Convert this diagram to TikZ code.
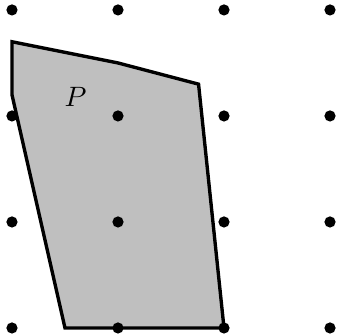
\documentclass[tikz,border=0pt]{standalone}
\tikzset{
	gdot/.style={circle, fill=black, inner sep=0pt, minimum size=4pt},
	pface/.style={fill=black!25, draw=black, line width=1.2pt, line join=miter}
}

\begin{document}
\begin{tikzpicture}[x=1.33cm, y=1.33cm]
	\useasboundingbox (-0.113,-0.066) rectangle (3.066,3.094);
	\draw[pface] (0,2.7) coordinate (pa) -- (1,2.5) coordinate (pb) -- (1.76,2.3) coordinate (pc)
		-- (2,0) coordinate (pd) -- (0.5,0) coordinate (pe) -- (0,2.2) coordinate (pf) -- cycle;
	\foreach \i in {0,...,3}
		\foreach \j in {0,...,3}
			\node[gdot] (d\i\j) at (\i,\j) {};
	\node (plabel) at (0.6,2.18) {$P$};
\end{tikzpicture}
\end{document}
